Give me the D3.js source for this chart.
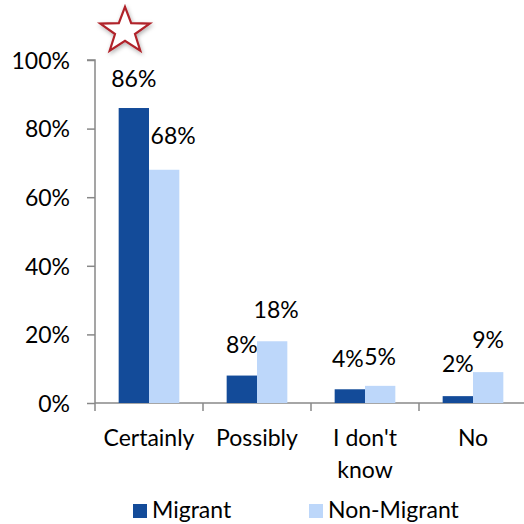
<!DOCTYPE html>
<html><head><meta charset="utf-8">
<script src="https://cdn.jsdelivr.net/npm/d3@7"></script>
<style>html,body{margin:0;padding:0;background:#fff}svg{display:block}text{font-family:Lato,"Open Sans",sans-serif;fill:#000}</style>
</head><body><svg id="c" width="524" height="524"></svg>
<script>
const categories = [["Certainly"], ["Possibly"], ["I don't", "know"], ["No"]];
const series = ["Migrant", "Non-Migrant"];
const migrant = [86, 8, 4, 2];
const nonMigrant = [68, 18, 5, 9];
const yTicks = [0, 20, 40, 60, 80, 100];
const colors = ["#134B99", "#BDD7FA"];

const svg = d3.select("#c");
const catKeys = categories.map(c => c.join(" "));
const x0 = d3.scaleBand().domain(catKeys).range([95, 527]).padding(0);
const x1 = d3.scaleBand().domain(series).range([0, x0.bandwidth()]).paddingInner(0).paddingOuter(0.78);
const y = d3.scaleLinear().domain([0, 100]).range([403, 60]);
const fs = 23;

// y axis
const yAxis = d3.axisLeft(y).tickValues(yTicks).tickFormat(d => d + "%").tickSize(8).tickPadding(17);
const gy = svg.append("g").attr("transform", "translate(95,0)").call(yAxis);
gy.select(".domain").attr("stroke", "#888").attr("stroke-width", 1.5).attr("d", "M-8,60H0V403");
gy.selectAll(".tick line").attr("stroke", "#888").attr("stroke-width", 1.5);
gy.selectAll(".tick text").attr("font-size", fs).attr("font-family", "Lato").attr("fill", "#000").attr("dy", "0.36em");

// x axis line and ticks at category boundaries
svg.append("line").attr("x1", 95).attr("x2", 524).attr("y1", y(0)).attr("y2", y(0)).attr("stroke", "#888").attr("stroke-width", 1.5);
svg.selectAll(".xt").data(catKeys).enter().append("line")
  .attr("x1", d => x0(d)).attr("x2", d => x0(d)).attr("y1", y(0)).attr("y2", y(0) + 8)
  .attr("stroke", "#888").attr("stroke-width", 1.5);

// category labels
categories.forEach((lines, i) => {
  const t = svg.append("text").attr("text-anchor", "middle").attr("font-size", fs)
    .attr("x", x0(catKeys[i]) + x0.bandwidth() / 2).attr("y", 446);
  lines.forEach((l, j) => t.append("tspan").attr("x", x0(catKeys[i]) + x0.bandwidth() / 2).attr("dy", j ? 32 : 0).text(l));
});

// bars
const data = [migrant, nonMigrant];
series.forEach((s, si) => {
  const g = svg.append("g");
  g.selectAll("rect").data(data[si]).enter().append("rect")
    .attr("x", (d, i) => x0(catKeys[i]) + x1(s))
    .attr("y", d => y(d)).attr("width", x1.bandwidth()).attr("height", d => y(0) - y(d))
    .attr("fill", colors[si]);
  const dx = si === 0 ? [0, 0, -2, 0] : [9, 4, 0, 0];
  const dy = si === 0 ? [-21, -23, -22, -24] : [-26, -23, -21, -24];
  g.selectAll("text").data(data[si]).enter().append("text")
    .attr("text-anchor", "middle").attr("font-size", fs)
    .attr("x", (d, i) => x0(catKeys[i]) + x1(s) + x1.bandwidth() / 2 + dx[i])
    .attr("y", (d, i) => y(d) + dy[i])
    .text(d => d + "%");
});

// legend
const legX = [133, 309];
series.forEach((s, si) => {
  svg.append("rect").attr("x", legX[si]).attr("y", 504).attr("width", 14).attr("height", 14).attr("fill", colors[si]);
  svg.append("text").attr("x", legX[si] + 19).attr("y", 518).attr("font-size", fs).text(s);
});

// star decoration
const cx = 125, cy = 31, R = 26, r = 10.5;
const pts = d3.range(10).map(k => {
  const a = -Math.PI / 2 + k * Math.PI / 5, rr = k % 2 ? r : R;
  return [cx + rr * Math.cos(a), cy + rr * Math.sin(a) * 0.93];
});
const defs = svg.append("defs");
const f = defs.append("filter").attr("id", "sh").attr("x", "-50%").attr("y", "-50%").attr("width", "200%").attr("height", "200%");
f.append("feDropShadow").attr("dx", 1).attr("dy", 2).attr("stdDeviation", 2).attr("flood-color", "#000").attr("flood-opacity", 0.3);
svg.append("polygon").attr("points", pts.map(p => p.join(",")).join(" "))
  .attr("fill", "#fff").attr("stroke", "#B0242A").attr("stroke-width", 2.2).attr("stroke-linejoin", "miter").attr("filter", "url(#sh)");
</script></body></html>
